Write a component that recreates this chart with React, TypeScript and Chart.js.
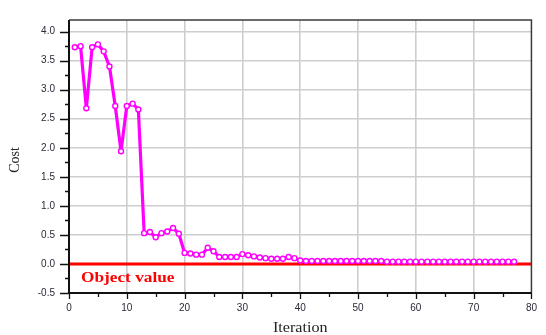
import React, { useEffect, useRef } from "react";
import { Chart, registerables } from "chart.js";

Chart.register(...registerables);

// Cost recorded at each iteration (iterations numbered from 1)
const costValues: number[] = [
  3.73, 3.75, 2.68, 3.73, 3.78, 3.66, 3.4, 2.72, 1.94, 2.72, 2.76, 2.66,
  0.53, 0.55, 0.46, 0.53, 0.56, 0.62, 0.52,
  0.19, 0.18, 0.16, 0.16, 0.28, 0.22, 0.12, 0.12, 0.12, 0.12, 0.17,
  0.15, 0.13, 0.11, 0.1, 0.09, 0.09, 0.09, 0.12, 0.1, 0.06,
  0.05, 0.05, 0.05, 0.05, 0.05, 0.05, 0.05, 0.05, 0.05, 0.05,
  0.05, 0.05, 0.05, 0.05, 0.04, 0.04, 0.04, 0.04, 0.04, 0.04,
  0.04, 0.04, 0.04, 0.04, 0.04, 0.04, 0.04, 0.04, 0.04, 0.04,
  0.04, 0.04, 0.04, 0.04, 0.04, 0.04, 0.04,
];
const iterations: number[] = costValues.map((_, i) => i + 1);

// Target (object) value drawn as a horizontal reference line
const objectValue = 0;
const objectSpan: number[] = [0, 80];

const xTicks: number[] = [0, 10, 20, 30, 40, 50, 60, 70, 80];
const xMinorTicks: number[] = [5, 15, 25, 35, 45, 55, 65, 75];
const yTicks: number[] = [-0.5, 0, 0.5, 1, 1.5, 2, 2.5, 3, 3.5, 4];
const yMinorTicks: number[] = [-0.25, 0.25, 0.75, 1.25, 1.75, 2.25, 2.75, 3.25, 3.75];

const X_MIN = 0;
const X_MAX = 80;
const Y_MIN = -0.5;
const Y_MAX = 4.2;

const W = 546;
const H = 335;

const GRID = "#cdcdcd";
const INK = "#2a2a3a";
const MAGENTA = "#ff00ff";
const RED = "#ff0000";

const framePlugin = {
  id: "frameAndLabels",
  afterDraw(chart: any) {
    const { ctx, chartArea } = chart;
    const { left, right, top, bottom } = chartArea;
    const xs = chart.scales.x;
    const ys = chart.scales.y;
    ctx.save();

    // outer frame
    ctx.strokeStyle = "#3a3a3a";
    ctx.lineWidth = 1.5;
    ctx.beginPath();
    ctx.moveTo(left, top);
    ctx.lineTo(right, top);
    ctx.lineTo(right, bottom);
    ctx.stroke();

    ctx.strokeStyle = "#111";
    ctx.lineWidth = 2;
    ctx.beginPath();
    ctx.moveTo(left, top);
    ctx.lineTo(left, bottom + 1);
    ctx.moveTo(left - 1, bottom);
    ctx.lineTo(right, bottom);
    ctx.stroke();

    // tick marks, pointing outward
    ctx.lineWidth = 1.3;
    ctx.beginPath();
    for (const v of yTicks) {
      const y = Math.round(ys.getPixelForValue(v)) + 0.5;
      ctx.moveTo(left - 9, y);
      ctx.lineTo(left, y);
    }
    for (const v of yMinorTicks) {
      const y = Math.round(ys.getPixelForValue(v)) + 0.5;
      ctx.moveTo(left - 4, y);
      ctx.lineTo(left, y);
    }
    for (const v of xTicks) {
      const x = Math.round(xs.getPixelForValue(v)) + 0.5;
      ctx.moveTo(x, bottom);
      ctx.lineTo(x, bottom + 6);
    }
    for (const v of xMinorTicks) {
      const x = Math.round(xs.getPixelForValue(v)) + 0.5;
      ctx.moveTo(x, bottom);
      ctx.lineTo(x, bottom + 4);
    }
    ctx.stroke();

    // axis titles
    ctx.fillStyle = "#222";
    ctx.textAlign = "center";
    ctx.textBaseline = "alphabetic";
    ctx.font = "14px 'Liberation Serif', 'Times New Roman', serif";
    ctx.save();
    ctx.translate((left + right) / 2, 332);
    ctx.scale(1.15, 1);
    ctx.fillText("Iteration", 0, 0);
    ctx.restore();

    ctx.save();
    ctx.translate(19, 160);
    ctx.rotate(-Math.PI / 2);
    ctx.fillText("Cost", 0, 0);
    ctx.restore();

    // label for the reference line
    ctx.save();
    ctx.fillStyle = RED;
    ctx.textAlign = "left";
    ctx.font = "bold 15px 'Liberation Serif', 'Times New Roman', serif";
    ctx.translate(81, 282);
    ctx.scale(1.15, 1);
    ctx.fillText("Object value", 0, 0);
    ctx.restore();

    ctx.restore();
  },
};

export default function App() {
  const canvasRef = useRef<HTMLCanvasElement | null>(null);

  useEffect(() => {
    const canvas = canvasRef.current;
    if (!canvas) return;

    const costPoints = iterations.map((it, i) => ({ x: it, y: costValues[i] }));
    const objectPoints = objectSpan.map((x) => ({ x, y: objectValue }));

    const chart = new Chart(canvas, {
      type: "line",
      data: {
        datasets: [
          {
            label: "Object value",
            data: objectPoints,
            borderColor: RED,
            borderWidth: 3,
            pointRadius: 0,
            clip: false,
            order: 2,
          },
          {
            label: "Cost",
            data: costPoints,
            borderColor: MAGENTA,
            borderWidth: 3.2,
            borderJoinStyle: "round",
            pointRadius: 2.5,
            pointBorderWidth: 1.4,
            pointBackgroundColor: "#ffffff",
            pointBorderColor: MAGENTA,
            tension: 0,
            order: 1,
          },
        ],
      },
      options: {
        responsive: false,
        animation: false,
        events: [],
        layout: { padding: { top: 10, right: 6, left: 0, bottom: 0 } },
        plugins: {
          legend: { display: false },
          tooltip: { enabled: false },
          title: { display: false },
        },
        scales: {
          x: {
            type: "linear",
            min: X_MIN,
            max: X_MAX,
            afterBuildTicks: (s: any) => {
              s.ticks = xTicks.map((value) => ({ value }));
            },
            afterFit: (s: any) => {
              s.height = 42;
            },
            border: { display: false },
            grid: {
              drawTicks: false,
              lineWidth: 1.6,
              color: (c: any) =>
                c.tick && (c.tick.value === X_MIN || c.tick.value === X_MAX)
                  ? "rgba(0,0,0,0)"
                  : GRID,
            },
            ticks: {
              padding: 9,
              maxRotation: 0,
              color: INK,
              font: { family: "'Liberation Sans', Arial, sans-serif", size: 10 },
              callback: (v: any) => String(v),
            },
          },
          y: {
            type: "linear",
            min: Y_MIN,
            max: Y_MAX,
            afterBuildTicks: (s: any) => {
              s.ticks = yTicks.map((value) => ({ value }));
            },
            afterFit: (s: any) => {
              s.width = 69;
            },
            border: { display: false },
            grid: {
              drawTicks: false,
              lineWidth: 1.6,
              color: (c: any) =>
                c.tick && c.tick.value === Y_MIN ? "rgba(0,0,0,0)" : GRID,
            },
            ticks: {
              padding: 14,
              color: INK,
              font: { family: "'Liberation Sans', Arial, sans-serif", size: 10 },
              callback: (v: any) => Number(v).toFixed(1),
            },
          },
        },
      },
      plugins: [framePlugin],
    });

    return () => chart.destroy();
  }, []);

  return (
    <div
      style={{
        position: "absolute",
        left: 0,
        top: 0,
        width: W,
        height: H,
        background: "#ffffff",
      }}
    >
      <canvas ref={canvasRef} width={W} height={H} style={{ display: "block" }} />
    </div>
  );
}
